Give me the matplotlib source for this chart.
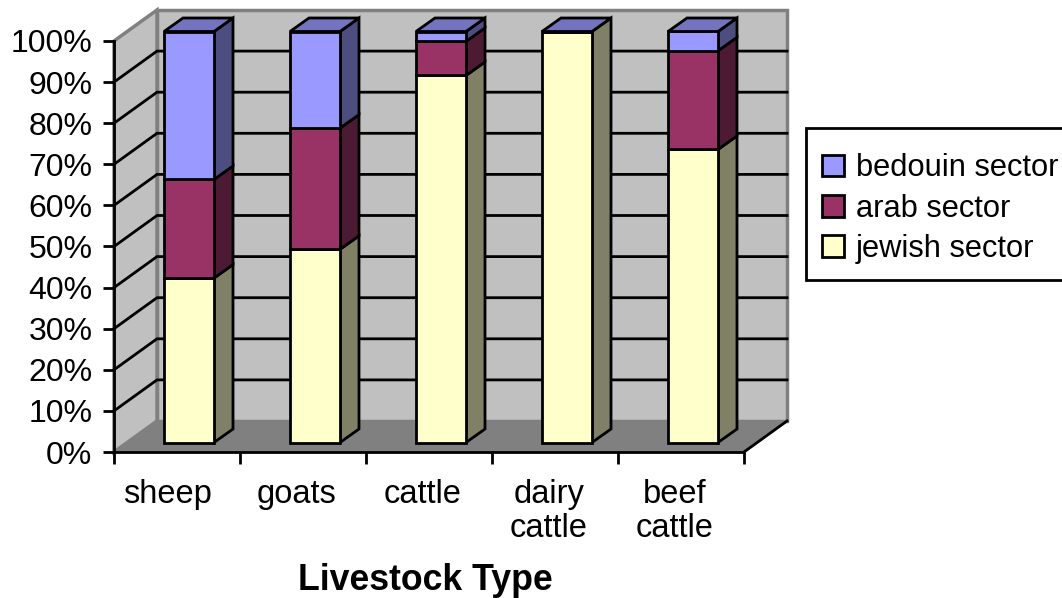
import matplotlib
matplotlib.use("Agg")
import matplotlib.pyplot as plt
from matplotlib.patches import Polygon, Rectangle
import numpy as np

categories = ["sheep", "goats", "cattle", "dairy\ncattle", "beef\ncattle"]
series_names = ["jewish sector", "arab sector", "bedouin sector"]
jewish = [40, 47, 89.3, 100, 71.3]
arab = [24, 29.5, 8.3, 0, 24]
bedouin = [36, 23.5, 2.4, 0, 4.7]

front_colors = ["#ffffcc", "#993366", "#9999ff"]
side_colors = ["#808066", "#4d1a33", "#4d4d80"]
top_color = "#7373bf"

W, H = 1062, 598
X0, X1, Y0, Y1 = 114, 744, 452, 41  # axes box in image pixels

plt.rcParams["font.family"] = ["Liberation Sans", "DejaVu Sans"]
fig = plt.figure(figsize=(W / 100, H / 100), dpi=100)
ax = fig.add_axes([X0 / W, 1 - Y0 / H, (X1 - X0) / W, (Y0 - Y1) / H])
ax.set_xlim(0, 5)
ax.set_ylim(0, 100)

# pixel offsets -> data units
ux = 5 / (X1 - X0)
uy = 100 / (Y0 - Y1)
wall_dx, wall_dy = 43 * ux, 31 * uy
bar_ox, bar_oy = 12 * ux, 9.5 * uy
bar_dx, bar_dy = 19 * ux, 13.5 * uy
bar_w = 50 * ux
LW = 2.0


def poly(pts, color, z, lw=LW, ec="black"):
    ax.add_patch(Polygon(pts, closed=True, facecolor=color, edgecolor=ec,
                         linewidth=lw, zorder=z, clip_on=False))


# floor, side wall, back wall
poly([(0, 0), (5, 0), (5 + wall_dx, wall_dy), (wall_dx, wall_dy)], "#808080", 1, 1.5, "#808080")
poly([(wall_dx, wall_dy), (5 + wall_dx, wall_dy), (5 + wall_dx, 100 + wall_dy), (wall_dx, 100 + wall_dy)],
     "#c0c0c0", 1, 2.5, "#808080")
poly([(0, 0), (wall_dx, wall_dy), (wall_dx, 100 + wall_dy), (0, 100)], "#c0c0c0", 1, 2.5, "#808080")

# gridlines on side wall and back wall
for v in range(10, 100, 10):
    ax.plot([0, wall_dx, 5 + wall_dx], [v, v + wall_dy, v + wall_dy], color="black",
            lw=LW, zorder=2, clip_on=False, solid_joinstyle="miter")
ax.plot([5, 5 + wall_dx], [0, wall_dy], color="black", lw=LW, zorder=2, clip_on=False)

# bars
x = np.arange(5)
bottom = np.zeros(5)
stack = [jewish, arab, bedouin]
left = x + 0.5 - bar_w / 2 + bar_ox
for s, vals in enumerate(stack):
    vals = np.array(vals)
    ax.bar(left, vals, width=bar_w, bottom=bottom + bar_oy, align="edge",
           color=front_colors[s], edgecolor="black", linewidth=LW, zorder=6 + s, clip_on=False)
    for i in range(5):
        if vals[i] <= 0:
            continue
        l = left[i] + bar_w
        b = bottom[i] + bar_oy
        t = b + vals[i]
        poly([(l, b), (l + bar_dx, b + bar_dy), (l + bar_dx, t + bar_dy), (l, t)], side_colors[s], 4 + s)
    bottom = bottom + vals

# top caps
for i in range(5):
    t = bottom[i] + bar_oy
    poly([(left[i], t), (left[i] + bar_w, t), (left[i] + bar_w + bar_dx, t + bar_dy), (left[i] + bar_dx, t + bar_dy)],
         top_color, 10)

# axes
for name in ["top", "right"]:
    ax.spines[name].set_visible(False)
for name in ["left", "bottom"]:
    ax.spines[name].set_linewidth(LW)
    ax.spines[name].set_color("black")
    ax.spines[name].set_zorder(12)
ax.patch.set_alpha(0)
ax.set_xticks(range(6))
ax.set_xticklabels([])
label_pos = x + 0.5 - 6 * ux
label_pos[0] -= 4 * ux
ax.set_xticks(label_pos, minor=True)
ax.set_xticklabels(categories, minor=True, fontsize=23.5, linespacing=1.12)
ax.tick_params(axis="x", which="major", length=8.5, width=LW, direction="out")
ax.tick_params(axis="x", which="minor", length=0, pad=19.5)
ax.set_yticks(range(0, 101, 10))
ax.set_yticklabels([f"{v}%" for v in range(0, 101, 10)], fontsize=23)
ax.tick_params(axis="y", length=8, width=LW, direction="out", pad=7.5)
ax.set_xlabel("Livestock Type", fontsize=25.7, fontweight="bold", labelpad=14,
              x=(425 - X0) / (X1 - X0))

# legend: frame drawn apart, it runs off the right edge
fig.add_artist(Rectangle((806 / W, 1 - 280 / H), 270 / W, 152 / H, transform=fig.transFigure,
                         facecolor="white", edgecolor="black", linewidth=LW, zorder=3))
handles = [Polygon([(0, 0)], facecolor=front_colors[s], edgecolor="black", linewidth=LW) for s in (2, 1, 0)]
leg = fig.legend(handles, [series_names[s] for s in (2, 1, 0)], loc="upper left",
                 bbox_to_anchor=(810 / W, 1 - 141 / H), frameon=False, fontsize=22.2,
                 handlelength=0.7, handleheight=0.7, handletextpad=0.38,
                 labelspacing=0.33, borderpad=0.4, borderaxespad=0)
leg.set_zorder(4)

fig.savefig("out.png", dpi=100)
